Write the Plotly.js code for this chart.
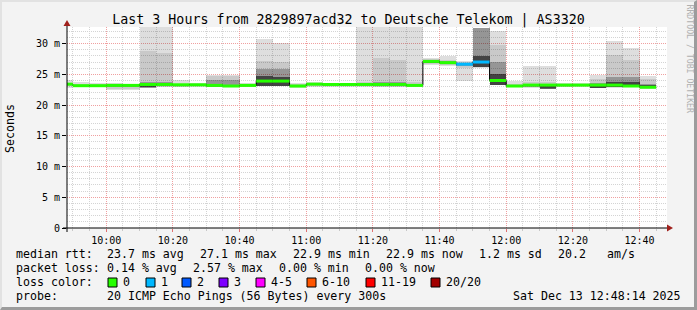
<!DOCTYPE html>
<html><head><meta charset="utf-8">
<script src="https://cdn.plot.ly/plotly-3.0.1.min.js"></script>
<style>
html,body{margin:0;padding:0;background:#f3f3f3;}
#wrap{position:relative;width:697px;height:310px;overflow:hidden;}
#chart{width:697px;height:310px;}
#frame{position:absolute;left:0;top:0;width:697px;height:310px;box-sizing:border-box;border-top:2px solid #e2e2e2;border-left:2px solid #e2e2e2;border-right:3px solid #9c9c9c;border-bottom:3px solid #9c9c9c;pointer-events:none;}
</style>
</head><body>
<div id="wrap"><div id="chart"></div><div id="frame"></div></div>
<script>
// ---- data: one value per 5-minute step, first step 09:45-09:50 ----
const medianMs = [23.4,23.15,23.15,23.2,23.2,23.35,23.35,23.3,23.3,23.2,23.1,23.2,23.9,23.9,23.1,23.4,23.35,23.35,23.35,23.35,23.35,23.2,27.1,26.9,26.65,27.0,24.0,23.1,23.25,23.25,23.25,23.25,23.25,23.25,23.1,22.9];
const lossPings = [0,0,0,0,0,0,0,0,0,0,0,0,0,0,0,0,0,0,0,0,0,0,0,0,1,1,0,0,0,0,0,0,0,0,0,0];
const smokeMin = [22.8,22.9,23.0,22.5,22.4,22.7,22.9,22.9,23.0,22.9,22.9,22.9,23.1,23.1,22.8,23.0,23.0,23.0,23.0,22.9,22.9,22.9,26.5,26.3,23.9,26.0,23.2,22.9,22.8,22.6,22.9,23.0,22.7,22.8,22.9,22.6];
const smokeMax = [24.0,23.75,23.6,23.6,23.5,40,40,24.0,23.6,24.9,24.9,23.65,30.8,30.1,23.6,23.7,23.65,23.65,40,40,40,40,27.7,27.95,27.1,32.6,32.0,23.9,26.3,26.3,23.6,23.6,24.9,30.4,29.35,24.7];
const midLo = [23.1,23.0,23.05,22.6,22.6,22.8,23.0,23.0,23.1,23.0,23.0,23.0,23.1,23.1,22.9,23.1,23.1,23.1,23.1,23.0,23.0,23.0,26.7,26.5,26.0,26.2,23.2,23.0,22.9,22.7,23.0,23.05,22.8,22.9,23.0,22.7];
const midHi = [23.6,23.4,23.35,23.4,23.4,28.8,28.5,23.5,23.45,24.75,24.75,23.4,27.1,27.0,23.4,23.55,23.5,23.5,23.8,27.6,27.3,23.8,27.5,27.4,26.95,32.6,29.7,23.5,23.8,23.7,23.45,23.45,24.3,28.1,27.3,24.2];
const coreLo = [23.3,23.1,23.1,22.9,22.9,22.8,23.1,23.2,23.2,23.0,23.0,23.1,23.1,23.1,23.0,23.2,23.2,23.2,23.2,23.1,23.1,23.1,26.8,26.7,26.4,26.2,23.2,23.05,23.0,22.8,23.1,23.1,22.85,22.95,23.0,22.8];
const coreHi = [23.5,23.25,23.2,23.3,23.3,23.8,23.7,23.4,23.4,24.1,24.1,23.3,25.9,25.8,23.3,23.5,23.45,23.45,23.5,23.8,23.8,23.4,27.3,27.1,26.85,32.6,27.0,23.3,23.45,23.4,23.35,23.35,23.6,24.6,24.6,23.5];
const darkLo = [23.35,23.1,23.1,23.1,23.1,23.0,23.2,23.25,23.25,23.1,23.05,23.15,23.1,23.1,23.05,23.3,23.3,23.3,23.3,23.2,23.2,23.15,26.9,26.8,26.55,26.2,23.2,23.1,23.1,22.6,23.15,23.15,22.7,23.0,23.0,22.7];
const darkHi = [23.45,23.2,23.2,23.25,23.25,23.5,23.5,23.35,23.35,23.4,23.3,23.25,24.7,24.6,23.2,23.45,23.4,23.4,23.4,23.5,23.5,23.3,27.2,27.0,26.75,28.0,25.0,23.2,23.35,23.35,23.3,23.3,23.4,23.8,23.7,23.2];

const yTickVals = [0,5,10,15,20,25,30];
const yTickText = ['0','5 m','10 m','15 m','20 m','25 m','30 m'];
const lossLabels = ['0','1','2','3','4-5','6-10','11-19','20/20'];
const lossColors = ['#26ff00','#00b8ff','#0059ff','#7e00ff','#ff00ff','#ff5500','#ff0000','#a10000'];
const lossLimits = [0,1,2,3,5,10,19,20];
const statsRtt = ['median rtt:','23.7 ms avg','27.1 ms max','22.9 ms min','22.9 ms now','1.2 ms sd','20.2','am/s'];
const statsLoss = ['packet loss:','0.14 % avg','2.57 % max','0.00 % min','0.00 % now'];
const probeText = ['probe:','20 ICMP Echo Pings (56 Bytes) every 300s','Sat Dec 13 12:48:14 2025'];
const titleText = 'Last 3 Hours from 2829897acd32 to Deutsche Telekom | AS3320';

// ---- layout helpers (pixel -> paper) ----
const W = 697, H = 310, ML = 67, MR = 30, MT = 27, MB = 82;
const PW = W - ML - MR, PH = H - MT - MB;
const px = x => (x - ML) / PW;
const py = y => (H - MB - y) / PH;

const T0 = Date.UTC(2025, 11, 13, 9, 45, 0);
const STEP = 300000;
const starts = medianMs.map((_, i) => T0 + i * STEP);
const centers = starts.map(s => s + STEP / 2);

const traces = [];
const layers = [
  [smokeMin, smokeMax, 'rgba(0,0,0,0.13)'],
  [midLo, midHi, 'rgba(0,0,0,0.095)'],
  [coreLo, coreHi, 'rgba(0,0,0,0.25)'],
  [darkLo, darkHi, 'rgba(0,0,0,0.55)']
];
layers.forEach(([lo, hi, col]) => {
  traces.push({
    type: 'bar', x: centers, base: lo, y: hi.map((h, i) => h - lo[i]),
    width: starts.map(() => STEP), marker: {color: col, line: {width: 0}},
    hoverinfo: 'skip', showlegend: false
  });
});
// black median step line
traces.push({
  type: 'scatter', mode: 'lines',
  x: starts.concat([starts[starts.length - 1] + STEP]),
  y: medianMs.concat([medianMs[medianMs.length - 1]]),
  line: {shape: 'hv', color: '#000', width: 1}, hoverinfo: 'skip', showlegend: false
});
// coloured median per loss class
function lossClass(l) { for (let k = 0; k < lossLimits.length; k++) if (l <= lossLimits[k]) return k; return lossLimits.length - 1; }
lossColors.forEach((col, k) => {
  const xs = [], ys = [];
  medianMs.forEach((m, i) => {
    if (lossClass(lossPings[i]) === k) { xs.push(starts[i], starts[i] + STEP, null); ys.push(m, m, null); }
  });
  if (xs.length) traces.push({type: 'scatter', mode: 'lines', x: xs, y: ys, line: {color: col, width: 3}, hoverinfo: 'skip', showlegend: false, connectgaps: false});
});

const mono = 'DejaVu Sans Mono';
const annotations = [];
function txt(x, y, t, size, extra) {
  annotations.push(Object.assign({xref: 'paper', yref: 'paper', x: px(x), y: py(y), text: t.replace(/ /g, '\u00a0'),
    showarrow: false, xanchor: 'left', yanchor: 'middle', borderpad: 0, borderwidth: 0,
    font: {family: mono, size: size, color: '#000'}}, extra || {}));
}
const fs = 11.6;
[16,107,200,293,386,479,558,607].forEach((x, i) => txt(x, 254, statsRtt[i], fs));
[16,107,193,279,365].forEach((x, i) => txt(x, 268, statsLoss[i], fs));
txt(16, 282, 'loss color:', fs);
const boxX = [108,146,182,219,256,307,366,431];
const shapes = [];
boxX.forEach((bx, i) => {
  shapes.push({type: 'rect', xref: 'paper', yref: 'paper', x0: px(bx), x1: px(bx + 9), y0: py(287), y1: py(278),
    fillcolor: lossColors[i], line: {color: '#000', width: 1}});
  txt(bx + 15, 282, lossLabels[i], fs);
});
[16,107,513].forEach((x, i) => txt(x, 296, probeText[i], fs));
annotations.push({xref: 'paper', yref: 'paper', x: px(10), y: py(129), text: 'Seconds', textangle: -90, showarrow: false,
  xanchor: 'center', yanchor: 'middle', font: {family: mono, size: fs, color: '#000'}});
annotations.push({xref: 'paper', yref: 'paper', x: px(689.5), y: py(59), text: 'RRDTOOL\u00a0/\u00a0TOBI\u00a0OETIKER', textangle: 90, showarrow: false,
  xanchor: 'center', yanchor: 'middle', font: {family: mono, size: 8.2, color: '#b0b0b0'}});

// axes lines and arrows
shapes.push({type: 'line', xref: 'paper', yref: 'paper', x0: px(63), x1: px(668), y0: py(228), y1: py(228), line: {color: '#000', width: 1}});
shapes.push({type: 'line', xref: 'paper', yref: 'paper', x0: px(67), x1: px(67), y0: py(232), y1: py(24), line: {color: '#000', width: 1}});
shapes.push({type: 'path', xref: 'paper', yref: 'paper',
  path: `M ${px(667)},${py(224.5)} L ${px(673)},${py(228)} L ${px(667)},${py(231.5)} Z`, fillcolor: '#a0201c', line: {width: 0}});
shapes.push({type: 'path', xref: 'paper', yref: 'paper',
  path: `M ${px(63.5)},${py(26)} L ${px(67)},${py(20)} L ${px(70.5)},${py(26)} Z`, fillcolor: '#a0201c', line: {width: 0}});

const layout = {
  width: W, height: H, margin: {l: ML, r: MR, t: MT, b: MB, pad: 0},
  paper_bgcolor: '#f3f3f3', plot_bgcolor: '#ffffff',
  font: {family: mono, size: 10, color: '#000'},
  title: {text: titleText, x: 0.5, xref: 'container', xanchor: 'center', y: 1 - 19 / H, yref: 'container', yanchor: 'middle',
    font: {family: mono, size: 13.3, color: '#000'}},
  barmode: 'overlay', bargap: 0, showlegend: false,
  xaxis: {type: 'date', range: [Date.UTC(2025,11,13,9,48,14), Date.UTC(2025,11,13,12,48,14)],
    tickmode: 'linear', tick0: Date.UTC(2025,11,13,10,0,0), dtick: 1200000, tickformat: '%H:%M',
    showgrid: true, gridcolor: '#f0a0a0', griddash: '1px,1px', gridwidth: 1,
    ticks: 'outside', ticklen: 3, tickcolor: '#e07070', showline: false, zeroline: false,
    tickfont: {family: mono, size: 10, color: '#000'},
    minor: {tickmode: 'linear', tick0: Date.UTC(2025,11,13,10,0,0), dtick: STEP, showgrid: true, gridcolor: '#d4d4d4', griddash: '1px,1px', ticks: 'outside', ticklen: 2, tickcolor: '#c8c8c8'},
    fixedrange: true},
  yaxis: {range: [0, 32.7], tickmode: 'array', tickvals: yTickVals, ticktext: yTickText,
    showgrid: true, gridcolor: '#f0a0a0', griddash: '1px,1px', gridwidth: 1,
    ticks: 'outside', ticklen: 4, tickcolor: '#000', showline: false, zeroline: false,
    tickfont: {family: mono, size: 10, color: '#000'},
    minor: {tickmode: 'linear', tick0: 0, dtick: 1, showgrid: true, gridcolor: '#d4d4d4', griddash: '1px,1px'},
    fixedrange: true},
  shapes: shapes, annotations: annotations
};
Plotly.newPlot('chart', traces, layout, {staticPlot: true, displayModeBar: false});
</script>
</body></html>
